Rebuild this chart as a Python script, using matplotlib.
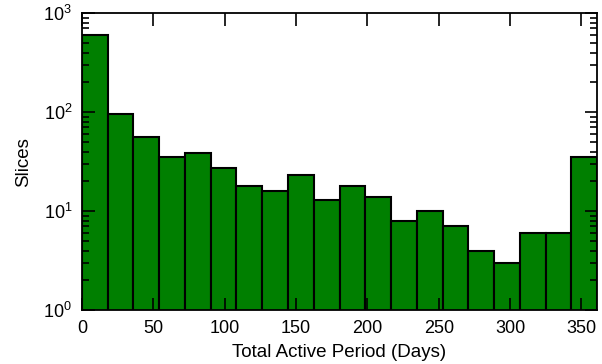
import matplotlib
matplotlib.use("Agg")
import matplotlib.pyplot as plt
import numpy as np

# histogram (20 bins over 0..361 days)
bin_lo = 0
bin_hi = 361
n_bins = 20
counts = [600, 95, 56, 35, 39, 27, 18, 16, 23, 13,
          18, 14, 8, 10, 7, 4, 3, 6, 6, 35]

x_ticks = [0, 50, 100, 150, 200, 250, 300, 350]

plt.rcParams['font.family'] = ['Liberation Sans', 'DejaVu Sans']

def main():
    edges = np.linspace(bin_lo, bin_hi, n_bins + 1)

    fig = plt.figure(figsize=(6.02, 3.64), dpi=100)
    ax = fig.add_axes([0.136, 0.148, 0.856, 0.816])

    ax.bar(edges[:-1], counts, width=np.diff(edges), align='edge',
           color='#007f00', edgecolor='black', linewidth=1.5)

    ax.set_yscale('log')
    ax.set_ylim(1, 1000)
    ax.set_xlim(bin_lo, bin_hi)
    ax.set_xticks(x_ticks)

    for s in ax.spines.values():
        s.set_linewidth(1.3)
    ax.tick_params(which='both', direction='in', top=True, right=True, labelsize=13)
    ax.tick_params(which='major', length=9, width=1.2, pad=7)
    ax.tick_params(which='minor', length=5, width=1.2)
    ax.tick_params(axis='x', which='minor', bottom=False, top=False)

    ax.set_xlabel('Total Active Period (Days)', fontsize=13.5, labelpad=5)
    ax.set_ylabel('Slices', fontsize=13.5, labelpad=8)

    fig.savefig('out.png', dpi=100)

if __name__ == "__main__":
    main()
